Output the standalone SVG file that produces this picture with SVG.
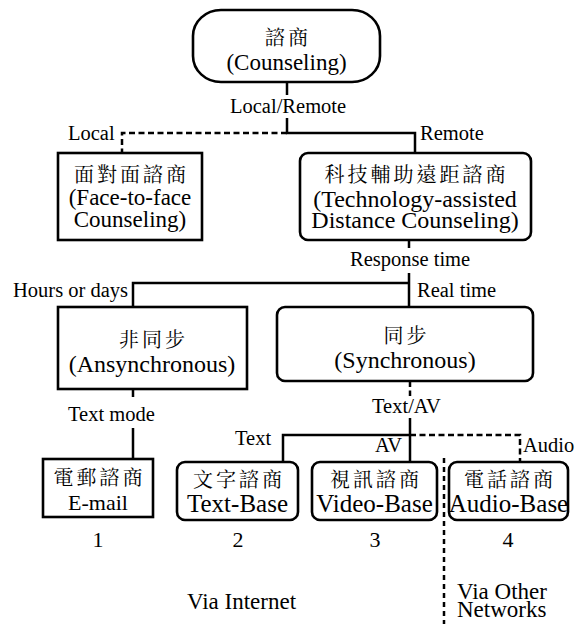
<svg xmlns="http://www.w3.org/2000/svg" width="577" height="624" viewBox="0 0 577 624">
<rect x="0" y="0" width="577" height="624" fill="#fff"/>
<g id="connectors" fill="none" stroke="#000" stroke-width="2.5">
<path d="M287,82V95M287,118V133H415V153"/>
<path d="M287,133H122V153" stroke-dasharray="6 3.5"/>
<path d="M409,240V248M409,273V307M133,307V283H409"/>
<path d="M133,389V397M133,428V459"/>
<path d="M410,381V396" stroke-dasharray="6 3.5"/>
<path d="M410,418V462M283,462V435H410"/>
<path d="M410,435H520V462" stroke-dasharray="6 3.5"/>
<path d="M444,458V624" stroke-dasharray="5 4"/>
</g>
<g id="labels" fill="#000">
<text font-family="Liberation Serif" font-size="20.5" x="230" y="113">Local/Remote</text>
<text font-family="Liberation Serif" font-size="20.5" x="68" y="140">Local</text>
<text font-family="Liberation Serif" font-size="20.5" x="420" y="140">Remote</text>
<text font-family="Liberation Serif" font-size="20.5" x="350" y="266">Response time</text>
<text font-family="Liberation Serif" font-size="20.5" x="13" y="297">Hours or days</text>
<text font-family="Liberation Serif" font-size="20.5" x="417" y="297">Real time</text>
<text font-family="Liberation Serif" font-size="20.5" x="68" y="421">Text mode</text>
<text font-family="Liberation Serif" font-size="20.5" x="372" y="413">Text/AV</text>
<text font-family="Liberation Serif" font-size="20.5" x="235" y="445">Text</text>
<text font-family="Liberation Serif" font-size="20.5" x="402" y="452" text-anchor="end">AV</text>
<text font-family="Liberation Serif" font-size="20.5" x="523" y="452">Audio</text>
</g>
<g id="n-counseling">
<rect x="193" y="10" width="187" height="72" rx="28" ry="26" fill="#fff" stroke="#000" stroke-width="2.6"/>
<text font-family="Noto Serif CJK TC" font-size="20" letter-spacing="3" text-anchor="middle" x="288" y="45">諮商</text>
<text font-family="Liberation Serif" font-size="23" text-anchor="middle" x="286.5" y="70">(Counseling)</text>
</g>
<g id="n-face">
<rect x="58" y="153" width="144" height="87" fill="#fff" stroke="#000" stroke-width="2.6"/>
<text font-family="Noto Serif CJK TC" font-size="20" letter-spacing="3" text-anchor="middle" x="131.5" y="182">面對面諮商</text>
<text font-family="Liberation Serif" font-size="23" text-anchor="middle" x="130" y="205">(Face-to-face</text>
<text font-family="Liberation Serif" font-size="23" text-anchor="middle" x="130" y="227">Counseling)</text>
</g>
<g id="n-tech">
<rect x="300" y="153" width="231" height="87" rx="8" fill="#fff" stroke="#000" stroke-width="2.6"/>
<text font-family="Noto Serif CJK TC" font-size="20" letter-spacing="3" text-anchor="middle" x="416.5" y="182">科技輔助遠距諮商</text>
<text font-family="Liberation Serif" font-size="24" text-anchor="middle" x="415" y="207">(Technology-assisted</text>
<text font-family="Liberation Serif" font-size="24" text-anchor="middle" x="415" y="228">Distance Counseling)</text>
</g>
<g id="n-async">
<rect x="58" y="307" width="189" height="82" fill="#fff" stroke="#000" stroke-width="2.6"/>
<text font-family="Noto Serif CJK TC" font-size="20" letter-spacing="3" text-anchor="middle" x="153.5" y="347">非同步</text>
<text font-family="Liberation Serif" font-size="24" text-anchor="middle" x="152" y="372">(Ansynchronous)</text>
</g>
<g id="n-sync">
<rect x="277" y="307" width="256" height="74" rx="8" fill="#fff" stroke="#000" stroke-width="2.6"/>
<text font-family="Noto Serif CJK TC" font-size="20" letter-spacing="3" text-anchor="middle" x="406.5" y="343">同步</text>
<text font-family="Liberation Serif" font-size="24" text-anchor="middle" x="405" y="368">(Synchronous)</text>
</g>
<g id="n-email">
<rect x="43" y="459" width="110" height="58" fill="#fff" stroke="#000" stroke-width="2.6"/>
<text font-family="Noto Serif CJK TC" font-size="20" letter-spacing="3" text-anchor="middle" x="99.5" y="485">電郵諮商</text>
<text font-family="Liberation Serif" font-size="22" text-anchor="middle" x="98" y="510">E-mail</text>
</g>
<g id="n-text">
<rect x="177" y="462" width="121" height="58" rx="8" fill="#fff" stroke="#000" stroke-width="2.6"/>
<text font-family="Noto Serif CJK TC" font-size="20" letter-spacing="3" text-anchor="middle" x="239" y="487">文字諮商</text>
<text font-family="Liberation Serif" font-size="25" text-anchor="middle" x="237.5" y="512">Text-Base</text>
</g>
<g id="n-video">
<rect x="312" y="462" width="125" height="58" rx="8" fill="#fff" stroke="#000" stroke-width="2.6"/>
<text font-family="Noto Serif CJK TC" font-size="20" letter-spacing="3" text-anchor="middle" x="376" y="487">視訊諮商</text>
<text font-family="Liberation Serif" font-size="25" text-anchor="middle" x="374.5" y="512">Video-Base</text>
</g>
<g id="n-audio">
<rect x="449" y="462" width="119" height="58" rx="8" fill="#fff" stroke="#000" stroke-width="2.6"/>
<text font-family="Noto Serif CJK TC" font-size="20" letter-spacing="3" text-anchor="middle" x="510" y="487">電話諮商</text>
<text font-family="Liberation Serif" font-size="25" text-anchor="middle" x="508.5" y="512">Audio-Base</text>
</g>
<g id="footer">
<text font-family="Liberation Serif" font-size="22" text-anchor="middle" x="98" y="547">1</text>
<text font-family="Liberation Serif" font-size="22" text-anchor="middle" x="238" y="547">2</text>
<text font-family="Liberation Serif" font-size="22" text-anchor="middle" x="375" y="547">3</text>
<text font-family="Liberation Serif" font-size="22" text-anchor="middle" x="508" y="547">4</text>
<text font-family="Liberation Serif" font-size="23" text-anchor="middle" x="241.5" y="609">Via Internet</text>
<text font-family="Liberation Serif" font-size="23" x="457" y="599">Via Other</text>
<text font-family="Liberation Serif" font-size="23" x="457" y="617">Networks</text>
</g>
</svg>
